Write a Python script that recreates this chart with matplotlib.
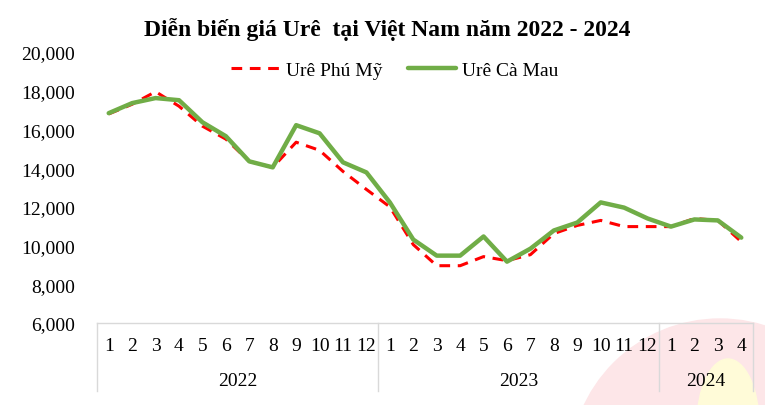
import matplotlib
matplotlib.use("Agg")
import matplotlib.pyplot as plt
import matplotlib.transforms as mtransforms
from matplotlib.patches import Ellipse

# data (VND/kg)
months = ["1", "2", "3", "4", "5", "6", "7", "8", "9", "10", "11", "12",
          "1", "2", "3", "4", "5", "6", "7", "8", "9", "10", "11", "12",
          "1", "2", "3", "4"]
years = ["2022", "2023", "2024"]
year_sizes = [12, 12, 4]

phu_my = [16800, 17300, 17950, 17200, 16170, 15500, 14350, 14040, 15340, 14920, 13830, 12900,
          12000, 10050, 8960, 8960, 9430, 9220, 9530, 10620, 11040, 11300, 10980, 10980,
          10980, 11400, 11300, 10200]
ca_mau = [16840, 17360, 17620, 17510, 16370, 15650, 14350, 14040, 16220, 15800, 14300, 13780,
          12230, 10310, 9480, 9480, 10470, 9170, 9840, 10780, 11190, 12230, 11960, 11400,
          10980, 11350, 11300, 10410]

plt.rcParams['font.family'] = ['Liberation Serif', 'DejaVu Serif']

fig = plt.figure(figsize=(7.65, 4.06), dpi=100)

# faint logo watermark in the lower right corner (behind everything)
fig.patches.append(Ellipse((720 / 765, 1 - 470 / 406), 2 * 150 / 765, 2 * 150 / 406,
                           transform=fig.transFigure, color='#fde6e8', zorder=0))
fig.patches.append(Ellipse((728 / 765, 1 - 425 / 406), 62 / 765, 130 / 406,
                           transform=fig.transFigure, color='#fffbd8', zorder=0))

ax = fig.add_axes([97 / 765, 1 - 324 / 406, (753 - 97) / 765, (324 - 53) / 406])
ax.set_facecolor('none')
ax.set_zorder(2)

x = list(range(len(months)))
ax.plot(x, phu_my, color='#ff0000', lw=2.2, dashes=(3.5, 2.5), label='Urê Phú Mỹ')
ax.plot(x, ca_mau, color='#70ad47', lw=3.2, solid_capstyle='round', label='Urê Cà Mau')

ax.set_xlim(-0.5, len(months) - 0.5)
ax.set_ylim(6000, 20000)
ax.set_yticks(range(6000, 20001, 2000))
ax.set_yticklabels([f"{v:,}" for v in range(6000, 20001, 2000)])
ax.set_xticks(x)
ax.set_xticklabels(months)
ax.tick_params(axis='y', length=0, pad=16, labelsize=14)
ax.tick_params(axis='x', length=0, pad=10, labelsize=14)

for s in ['left', 'right', 'top']:
    ax.spines[s].set_visible(False)
ax.spines['bottom'].set_color('#d9d9d9')
ax.spines['bottom'].set_linewidth(1)

# category table below the axis: separators and year labels
trans = mtransforms.blended_transform_factory(ax.transData, ax.transAxes)
start = -0.5
edges = [start]
for yr, n in zip(years, year_sizes):
    ax.text(start + n / 2, -0.214, yr, transform=trans, ha='center', va='center', fontsize=14)
    start += n
    edges.append(start)
for e in edges:
    ax.plot([e, e], [0, -0.25], transform=trans, color='#d9d9d9', lw=1, clip_on=False)

fig.text(0.5 + 5 / 765, 1 - 30 / 406, 'Diễn biến giá Urê  tại Việt Nam năm 2022 - 2024',
         ha='center', va='center', fontsize=17, fontweight='bold')

leg = fig.legend(loc='center', bbox_to_anchor=(395 / 765, 1 - 71 / 406), ncol=2, frameon=False,
                 fontsize=14, handlelength=2.5, handletextpad=0.3, columnspacing=1.3)
leg.set_zorder(3)

fig.savefig('out.png', dpi=100)
